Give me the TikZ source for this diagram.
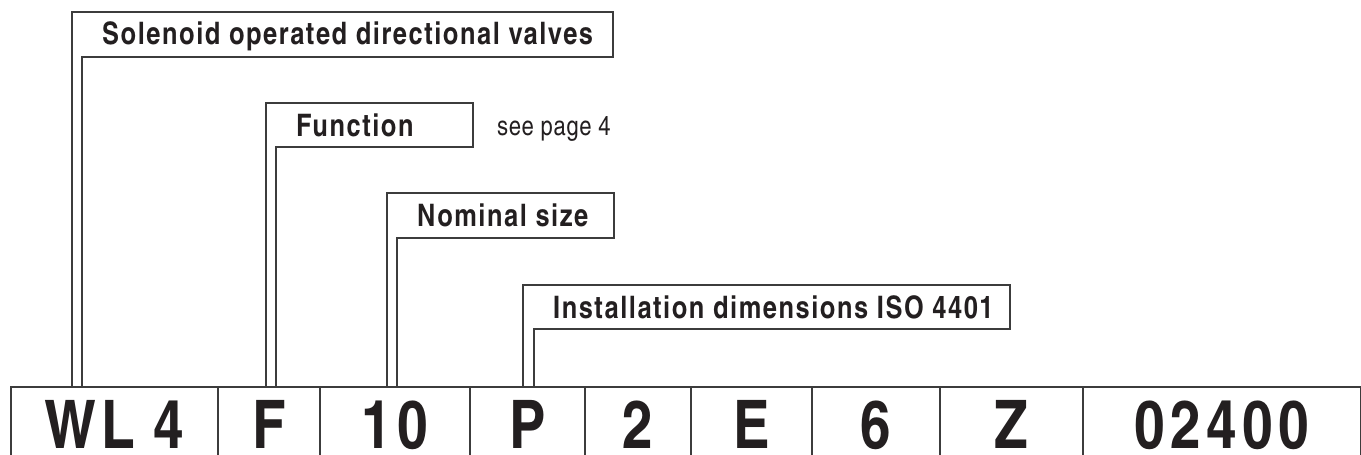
\documentclass[tikz,border=0pt]{standalone}
\usepackage{fontspec}
\setmainfont{texgyreheroscn}[Extension=.otf, UprightFont=*-regular, BoldFont=*-bold]
\newfontfamily\lblfont{texgyreheroscn}[Extension=.otf, UprightFont=*-bold, LetterSpace=5]
\newfontfamily\codefont{texgyreheroscn}[Extension=.otf, UprightFont=*-bold, LetterSpace=8, WordSpace=0.9]
\newfontfamily\notefont{texgyreheroscn}[Extension=.otf, UprightFont=*-regular, LetterSpace=2]
\definecolor{inkblack}{HTML}{231F20}
\definecolor{rulegray}{HTML}{3C3C3C}
\tikzset{
  rule/.style={draw=rulegray, line width=1.3pt},
  lbl/.style={font=\lblfont\fontsize{31}{34}\selectfont, text=inkblack, anchor=base west, inner sep=0pt},
  note/.style={font=\notefont\fontsize{27}{30}\selectfont, text=inkblack, anchor=base west, inner sep=0pt},
  code/.style={font=\codefont\fontsize{67}{70}\selectfont, text=inkblack, anchor=base, inner sep=0pt, text depth=0pt}
}
\begin{document}
\begin{tikzpicture}[x=1pt,y=-1pt]
  \useasboundingbox (0,0) rectangle (1361,455);
  \fill[white] (0,0) rectangle (1361,455);

  \draw[rule] (11,455) |- (1361,387);
  \foreach \a/\b/\t [count=\i] in {11/218/WL 4,218/320/F,320/470/10,470/585/P,585/691/2,
                                   691/812/E,812/940/6,940/1083/Z,1083/1361/02400}
  {
    \pgfmathsetmacro{\xm}{(\a+\b)/2};
    \node[code] (c\i) at (\xm,448) {\t};
    \draw[rule] (\b,387) -- (\b,455);
  }

  \foreach \n/\xo/\xi/\yt/\yb/\xr/\t in {series/72/82/12/57/613/Solenoid operated directional valves,
                                        func/266/276/103/147/473/Function,
                                        size/387/397/193/238/614/Nominal size,
                                        iso/523/534/285/329/1010/Installation dimensions ISO 4401}
  {
    \node[lbl] (\n) at (\xo+30,\yt+33) {\t};
    \draw[rule] (\xo,387) |- (\xr,\yt) |- (\xi,\yb) -- (\xi,387);
  }
  \node[note] (page) at (497,135) {see page 4};

\end{tikzpicture}
\end{document}
